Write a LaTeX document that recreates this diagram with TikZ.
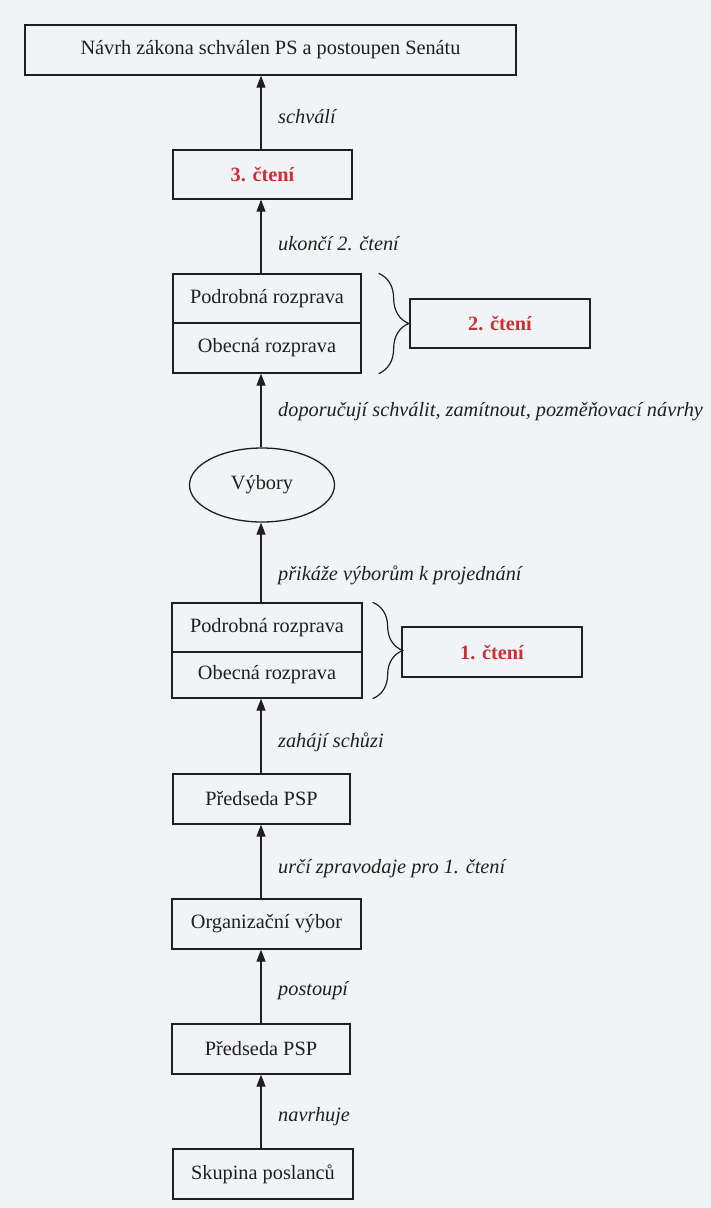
\documentclass[tikz,border=0pt]{standalone}
\usepackage{fontspec}
\setmainfont{Liberation Serif}
\usetikzlibrary{arrows.meta,shapes.geometric,decorations.pathreplacing}
\definecolor{redtxt}{RGB}{205,48,52}
\definecolor{ink}{RGB}{35,30,30}
\definecolor{paper}{RGB}{241,244,247}
\begin{document}
\begin{tikzpicture}[x=1pt,y=-1pt,
 box/.style={draw=ink,line width=1.3pt,rectangle,inner sep=0pt,font=\fontsize{20.3}{24}\selectfont,text=ink},
 redbox/.style={box,font=\fontsize{20.3}{24}\selectfont\bfseries,text=redtxt},
 oval/.style={draw=ink,line width=1.3pt,ellipse,inner sep=0pt,font=\fontsize{20.3}{24}\selectfont,text=ink},
 lbl/.style={anchor=west,inner sep=0pt,font=\fontsize{20.3}{24}\selectfont\itshape,text=ink},
 arr/.style={draw=ink,line width=1.3pt,-{Triangle[length=12pt,width=9pt]}},
 brc/.style={draw=ink,line width=1.2pt,decorate,decoration={brace,amplitude=30pt}}]
\fill[paper] (0,0) rectangle (711,1208);
\useasboundingbox (0,0) rectangle (711,1208);
\coordinate (ax) at (261,0);
% nodes
\node[box,minimum width=491pt,minimum height=50pt] (top) at (270.5,50) {Návrh zákona schválen PS a postoupen Senátu};
\node[redbox,minimum width=179pt,minimum height=49pt] (c3) at (262.5,174.5) {3. čtení};
\node[box,minimum width=188pt,minimum height=49pt] (p2) at (267,298.5) {Podrobná rozprava};
\node[box,minimum width=188pt,minimum height=50pt] (o2) at (267,348) {Obecná rozprava};
\node[redbox,minimum width=180pt,minimum height=49pt] (c2) at (500,323.5) {2. čtení};
\node[oval,minimum width=145pt,minimum height=74pt] (vyb) at (262,485) {Výbory};
\node[box,minimum width=190pt,minimum height=49pt] (p1) at (267,627.5) {Podrobná rozprava};
\node[box,minimum width=190pt,minimum height=46pt] (o1) at (267,675) {Obecná rozprava};
\node[redbox,minimum width=180pt,minimum height=50pt] (c1) at (492,652) {1. čtení};
\node[box,minimum width=177pt,minimum height=50pt] (ps1) at (261.5,799) {Předseda PSP};
\node[box,minimum width=189pt,minimum height=50pt] (org) at (266.5,924) {Organizační výbor};
\node[box,minimum width=178pt,minimum height=50pt] (ps2) at (261,1049) {Předseda PSP};
\node[box,minimum width=180pt,minimum height=50pt] (sk) at (263,1174) {Skupina poslanců};
% braces
\draw[brc] ([xshift=17pt]p2.north east) -- ([xshift=17pt]o2.south east);
\draw[brc] ([xshift=10pt]p1.north east) -- ([xshift=10pt]o1.south east);
% connectors
\draw[arr] (c3.north -| ax) -- (top.south -| ax);
\draw[arr] (p2.north -| ax) -- (c3.south -| ax);
\draw[arr] (vyb.north -| ax) -- (o2.south -| ax);
\draw[arr] (p1.north -| ax) -- (vyb.south -| ax);
\draw[arr] (ps1.north -| ax) -- (o1.south -| ax);
\draw[arr] (org.north -| ax) -- (ps1.south -| ax);
\draw[arr] (ps2.north -| ax) -- (org.south -| ax);
\draw[arr] (sk.north -| ax) -- (ps2.south -| ax);
% labels
\node[lbl] (l1) at (278,117) {schválí};
\node[lbl] (l2) at (278,244) {ukončí 2. čtení};
\node[lbl] (l3) at (278,412) {doporučují schválit, zamítnout, pozměňovací návrhy};
\node[lbl] (l4) at (278,575) {přikáže výborům k projednání};
\node[lbl] (l5) at (278,742) {zahájí schůzi};
\node[lbl] (l6) at (278,869) {určí zpravodaje pro 1. čtení};
\node[lbl] (l7) at (278,991) {postoupí};
\node[lbl] (l8) at (278,1117) {navrhuje};
\end{tikzpicture}
\end{document}
